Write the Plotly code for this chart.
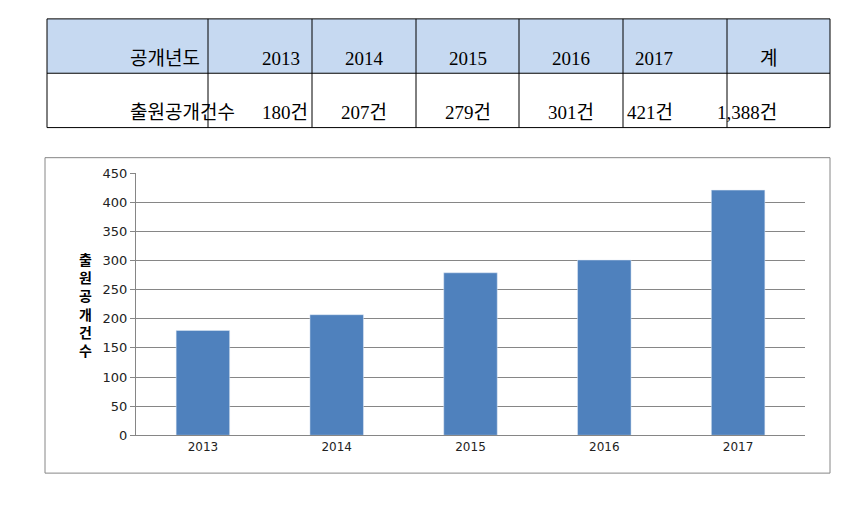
import plotly.graph_objects as go

years = ["2013", "2014", "2015", "2016", "2017"]
counts = [180, 207, 279, 301, 421]
header = ["공개년도", "2013", "2014", "2015", "2016", "2017", "계"]
row = ["출원공개건수", "180건", "207건", "279건", "301건", "421건", "1,388건"]

W, H = 866, 510
OX, OY = 8, 8  # page body margin offset


def px(x):
    return (x - OX) / W


def py(y):
    return 1 - (y - OY) / H


fig = go.Figure()
fig.add_trace(go.Bar(x=years, y=counts, marker_color="#4f81bd", width=0.4))

# table drawn with shapes and annotations
col_edges = [47, 208, 312, 416, 519, 623, 727, 830]
row_edges = [12, 68, 124]
shapes = []
annotations = []
shapes.append(dict(type="rect", xref="paper", yref="paper", layer="below",
                   x0=px(col_edges[0]), x1=px(col_edges[-1]),
                   y0=py(row_edges[1]), y1=py(row_edges[0]),
                   fillcolor="#c6d9f1", line=dict(width=0)))
for x in col_edges:
    shapes.append(dict(type="line", xref="paper", yref="paper",
                       x0=px(x), x1=px(x), y0=py(row_edges[-1]), y1=py(row_edges[0]),
                       line=dict(color="black", width=1)))
for y in row_edges:
    shapes.append(dict(type="line", xref="paper", yref="paper",
                       x0=px(col_edges[0]), x1=px(col_edges[-1]), y0=py(y), y1=py(y),
                       line=dict(color="black", width=1)))
for r, vals in enumerate([header, row]):
    yc = (row_edges[r] + row_edges[r + 1]) / 2
    for c, v in enumerate(vals):
        xc = (col_edges[c] + col_edges[c + 1]) / 2
        annotations.append(dict(text=v, xref="paper", yref="paper", x=px(xc), y=py(yc),
                                showarrow=False,
                                font=dict(family="Liberation Serif, Noto Sans CJK KR",
                                          size=19, color="black")))

# chart frame
shapes.append(dict(type="rect", xref="paper", yref="paper",
                   x0=px(45), x1=px(830), y0=py(480), y1=py(155),
                   line=dict(color="#868686", width=1)))
annotations.append(dict(text="<b>" + "<br>".join("출원공개건수") + "</b>",
                        xref="paper", yref="paper", x=px(77), y=py(306), showarrow=False,
                        font=dict(family="Noto Sans CJK KR", size=14, color="black")))

fig.update_layout(
    width=W, height=H, showlegend=False,
    paper_bgcolor="white", plot_bgcolor="white",
    margin=dict(l=0, r=0, t=0, b=0),
    font=dict(family="DejaVu Sans", size=12, color="#222222"),
    xaxis=dict(domain=[px(136), px(805)], showline=True, linecolor="#868686",
               ticks="", tickfont=dict(size=12)),
    yaxis=dict(domain=[py(441), py(171)], range=[0, 450], dtick=50,
               showgrid=True, gridcolor="#868686", showline=True, linecolor="#868686",
               ticks="outside", ticklen=5, tickcolor="#868686", tickfont=dict(size=13)),
    shapes=shapes,
    annotations=annotations,
)

fig.write_html("out.html")
